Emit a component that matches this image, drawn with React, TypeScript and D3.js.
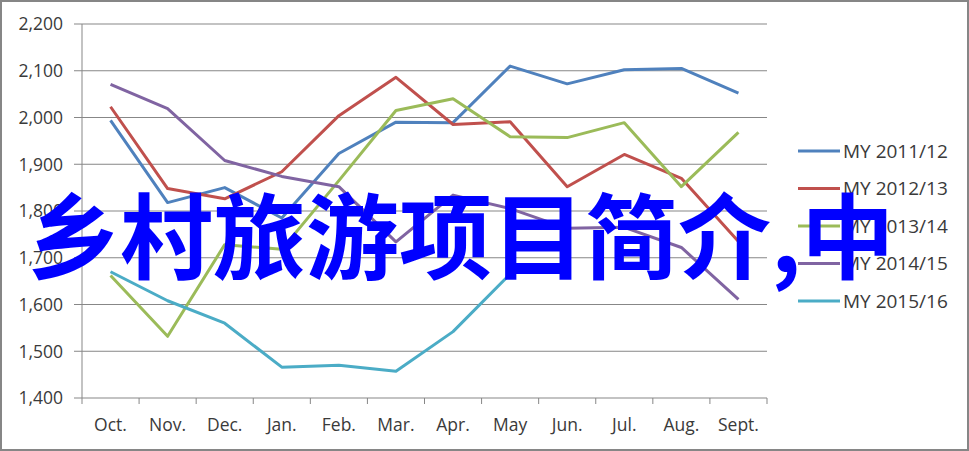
import React from 'react';
import * as d3 from 'd3';

// months on the category axis
const months = ['Oct.', 'Nov.', 'Dec.', 'Jan.', 'Feb.', 'Mar.', 'Apr.', 'May', 'Jun.', 'Jul.', 'Aug.', 'Sept.'];
const yTicks = [1400, 1500, 1600, 1700, 1800, 1900, 2000, 2100, 2200];

const seriesNames = ['MY 2011/12', 'MY 2012/13', 'MY 2013/14', 'MY 2014/15', 'MY 2015/16'];
const seriesColors = ['#4F81BD', '#C0504D', '#9BBB59', '#8064A2', '#4BACC6'];

const my2011 = [1994, 1818, 1850, 1785, 1923, 1990, 1989, 2110, 2072, 2102, 2105, 2052];
const my2012 = [2023, 1848, 1826, 1884, 2004, 2086, 1985, 1991, 1852, 1921, 1870, 1735];
const my2013 = [1662, 1532, 1728, 1718, 1865, 2015, 2040, 1959, 1957, 1989, 1852, 1968];
const my2014 = [2071, 2019, 1908, 1874, 1852, 1734, 1834, 1805, 1763, 1765, 1722, 1611];
const my2015 = [1670, 1608, 1560, 1466, 1470, 1457, 1542, 1665];

const overlayText = '乡村旅游项目简介,中';

const W = 969;
const H = 451;

export default function App() {
  const x = d3.scaleBand().domain(months).range([82, 767]);
  const y = d3.scaleLinear().domain([1400, 2200]).range([398, 24]);
  const cx = (m: string) => (x(m) || 0) + x.bandwidth() / 2;

  const allSeries = [my2011, my2012, my2013, my2014, my2015];
  const line = d3.line<number>()
    .x((_, i) => cx(months[i]))
    .y(d => y(d));

  const font = '"Open Sans", sans-serif';
  const textColor = '#3a3a3a';
  const gridColor = '#878787';

  return (
    <svg width={W} height={H} style={{ position: 'absolute', left: 0, top: 0, background: '#fff' }}>
      <rect x={1} y={1} width={W - 2} height={H - 2} fill="#fff" stroke="#868686" strokeWidth={2} />

      {/* gridlines + y labels */}
      {yTicks.map(t => (
        <g key={t}>
          <line x1={74} x2={767} y1={y(t)} y2={y(t)} stroke={gridColor} strokeWidth={1} />
          <text x={63} y={y(t)} dy="0.36em" textAnchor="end" fontFamily={font} fontSize={17.5} fill={textColor}>
            {d3.format(',')(t)}
          </text>
        </g>
      ))}

      {/* axes */}
      <line x1={82} x2={82} y1={y(2200)} y2={y(1400)} stroke={gridColor} strokeWidth={1} />
      {months.map(m => (
        <line key={m} x1={x(m)} x2={x(m)} y1={y(1400)} y2={y(1400) + 6} stroke={gridColor} strokeWidth={1} />
      ))}
      <line x1={767} x2={767} y1={y(1400)} y2={y(1400) + 6} stroke={gridColor} strokeWidth={1} />
      {months.map(m => (
        <text key={m} x={cx(m)} y={431} textAnchor="middle" fontFamily={font} fontSize={17.5} fill={textColor}>
          {m}
        </text>
      ))}

      {/* series */}
      {allSeries.map((s, i) => (
        <path key={i} d={line(s) || ''} fill="none" stroke={seriesColors[i]} strokeWidth={3} strokeLinejoin="round" />
      ))}

      {/* legend */}
      {seriesNames.map((n, i) => (
        <g key={n} transform={`translate(798,${151 + i * 37.5})`}>
          <line x1={0} x2={42} y1={0} y2={0} stroke={seriesColors[i]} strokeWidth={3} />
          <text x={45} y={0} dy="0.36em" fontFamily={font} fontSize={19} fill={textColor}>{n}</text>
        </g>
      ))}

      {/* overlay text */}
      <text x={27} y={272} fontFamily='"Noto Sans CJK SC", sans-serif' fontWeight={700} fontSize={93} fill="#0000FF">
        {overlayText}
      </text>
    </svg>
  );
}
